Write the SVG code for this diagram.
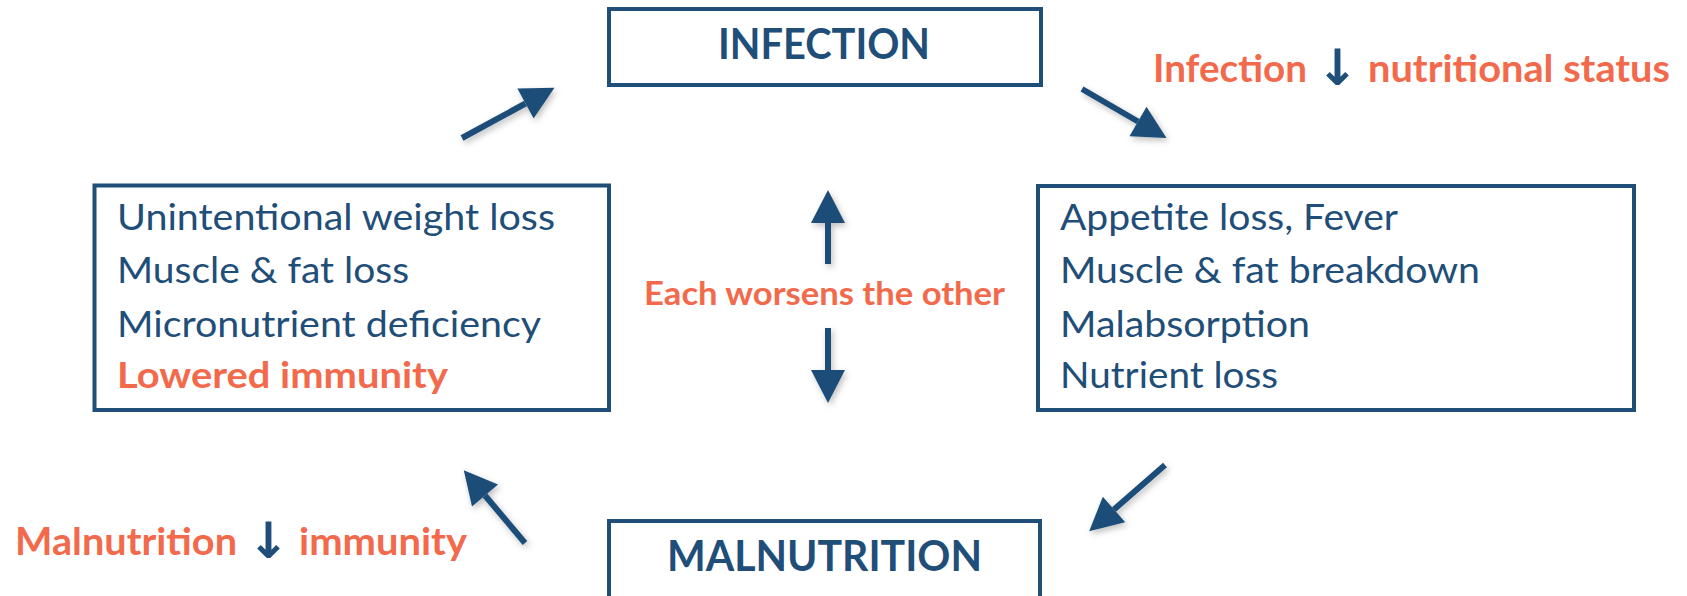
<svg xmlns="http://www.w3.org/2000/svg" width="1687" height="596" viewBox="0 0 1687 596">
  <style>
    .box { fill: #ffffff; stroke: #1F4E79; stroke-width: 4; }
    .title { font-family: Lato, "Open Sans", sans-serif; font-weight: bold; font-size: 42px; fill: #1F4E79; }
    .body { font-family: Lato, "Open Sans", sans-serif; font-size: 36px; fill: #1F4E79; }
    .hl { font-family: Lato, "Open Sans", sans-serif; font-weight: bold; font-size: 36px; fill: #F26A4B; }
    .lbl { font-family: Lato, "Open Sans", sans-serif; font-weight: bold; font-size: 38px; fill: #F26A4B; }
    .mid { font-family: Lato, "Open Sans", sans-serif; font-weight: bold; font-size: 32px; fill: #F26A4B; }
    .arr { font-family: "DejaVu Sans", sans-serif; font-weight: bold; font-size: 50px; fill: #1F4E79; }
    .conn { stroke: #1F4E79; stroke-width: 6; fill: none; marker-end: url(#head); }
  </style>
  <defs>
    <marker id="head" markerUnits="userSpaceOnUse" markerWidth="34" markerHeight="34" refX="0" refY="16.5" orient="auto" viewBox="0 0 32 33">
      <path d="M0,0 L32,16.5 L0,33 Z" fill="#1F4E79"/>
    </marker>
    <filter id="shadow" x="-30%" y="-30%" width="160%" height="160%">
      <feDropShadow dx="2" dy="3" stdDeviation="3" flood-color="#000" flood-opacity="0.25"/>
    </filter>
  </defs>
  <rect width="1687" height="596" fill="#ffffff"/>

  <g id="infection">
    <rect class="box" x="609" y="9" width="432" height="76"/>
    <text class="title" x="718" y="59" textLength="212" lengthAdjust="spacingAndGlyphs">INFECTION</text>
  </g>

  <g id="malnutrition">
    <rect class="box" x="609" y="521" width="431" height="90"/>
    <text class="title" x="667" y="571" textLength="315" lengthAdjust="spacingAndGlyphs">MALNUTRITION</text>
  </g>

  <g id="effects-malnutrition">
    <rect class="box" x="94.5" y="185.5" width="514.5" height="224.5"/>
    <text class="body" x="117" y="230" textLength="438" lengthAdjust="spacingAndGlyphs">Unintentional weight loss</text>
    <text class="body" x="117" y="283" textLength="292" lengthAdjust="spacingAndGlyphs">Muscle &amp; fat loss</text>
    <text class="body" x="117" y="337" textLength="424" lengthAdjust="spacingAndGlyphs">Micronutrient deficiency</text>
    <text class="hl" x="117" y="388" textLength="331" lengthAdjust="spacingAndGlyphs">Lowered immunity</text>
  </g>

  <g id="effects-infection">
    <rect class="box" x="1038" y="186" width="596" height="224"/>
    <text class="body" x="1060" y="230" textLength="338" lengthAdjust="spacingAndGlyphs">Appetite loss, Fever</text>
    <text class="body" x="1060" y="283" textLength="420" lengthAdjust="spacingAndGlyphs">Muscle &amp; fat breakdown</text>
    <text class="body" x="1060" y="337" textLength="250" lengthAdjust="spacingAndGlyphs">Malabsorption</text>
    <text class="body" x="1060" y="388" textLength="218" lengthAdjust="spacingAndGlyphs">Nutrient loss</text>
  </g>

  <g id="label-infection">
    <text class="lbl" x="1153" y="82" textLength="154" lengthAdjust="spacingAndGlyphs">Infection</text>
    <text class="arr" x="1337.5" y="85" text-anchor="middle">↓</text>
    <text class="lbl" x="1368" y="82" textLength="302" lengthAdjust="spacingAndGlyphs">nutritional status</text>
  </g>

  <g id="label-malnutrition">
    <text class="lbl" x="15" y="555" textLength="222" lengthAdjust="spacingAndGlyphs">Malnutrition</text>
    <text class="arr" x="268.5" y="558" text-anchor="middle">↓</text>
    <text class="lbl" x="299" y="555" textLength="168" lengthAdjust="spacingAndGlyphs">immunity</text>
  </g>

  <g id="label-center">
    <text class="mid" x="644" y="305" textLength="361" lengthAdjust="spacingAndGlyphs">Each worsens the other</text>
  </g>

  <g id="connectors" filter="url(#shadow)">
    <line class="conn" x1="462" y1="138" x2="525.5" y2="103.5"/>
    <line class="conn" x1="1082" y1="89" x2="1138" y2="121.5"/>
    <line class="conn" x1="1165" y1="465" x2="1114" y2="509.5"/>
    <line class="conn" x1="525" y1="543" x2="485" y2="495.5"/>
    <line class="conn" x1="828" y1="264" x2="828" y2="223"/>
    <line class="conn" x1="828" y1="328" x2="828" y2="370"/>
  </g>
</svg>
